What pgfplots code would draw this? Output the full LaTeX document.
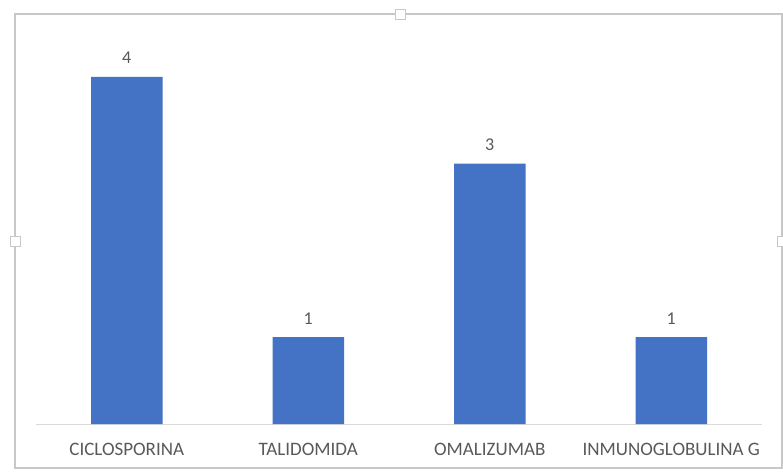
\documentclass[border=0pt]{standalone}
\usepackage{pgfplots}
\pgfplotsset{compat=1.18}
\usepackage{fontspec}
\setmainfont{Carlito}
\definecolor{barblue}{HTML}{4472C4}
\definecolor{txtgray}{HTML}{595959}
\definecolor{axgray}{HTML}{D9D9D9}
\definecolor{framegray}{HTML}{C8C8C8}
\begin{document}
\begin{tikzpicture}
\useasboundingbox (0pt,0pt) rectangle (783pt,472pt);
\fill[white] (0pt,0pt) rectangle (783pt,472pt);
\draw[framegray, line width=1.2pt] (15pt,4pt) rectangle (782pt,458pt);
\foreach \p in {(400pt,458pt),(15pt,231pt),(782pt,231pt)}{
  \filldraw[draw=framegray, fill=white, line width=0.8pt] \p ++(-5pt,-5pt) rectangle ++(10pt,10pt);
}
\begin{axis}[
  at={(36pt,48pt)}, anchor=south west,
  scale only axis, width=726pt, height=390.4pt,
  xmin=-0.5, xmax=3.5, ymin=0, ymax=4.5,
  axis x line*=bottom, axis y line=none,
  x axis line style={axgray, line width=1pt, -},
  ybar, bar width=71.5pt,
  xtick=data, xticklabels={CICLOSPORINA,TALIDOMIDA,OMALIZUMAB,INMUNOGLOBULINA G},
  major tick length=0pt,
  /pgf/number format/assume math mode=true,
  xticklabel style={font=\fontsize{19}{21}\selectfont, text=txtgray, anchor=center, yshift=-25pt},
  nodes near coords,
  nodes near coords style={font=\fontsize{18}{20}\selectfont, text=txtgray, anchor=center, yshift=19pt},
]
\addplot[fill=barblue, draw=none] coordinates {(0,4) (1,1) (2,3) (3,1)};
\end{axis}
\end{tikzpicture}
\end{document}
